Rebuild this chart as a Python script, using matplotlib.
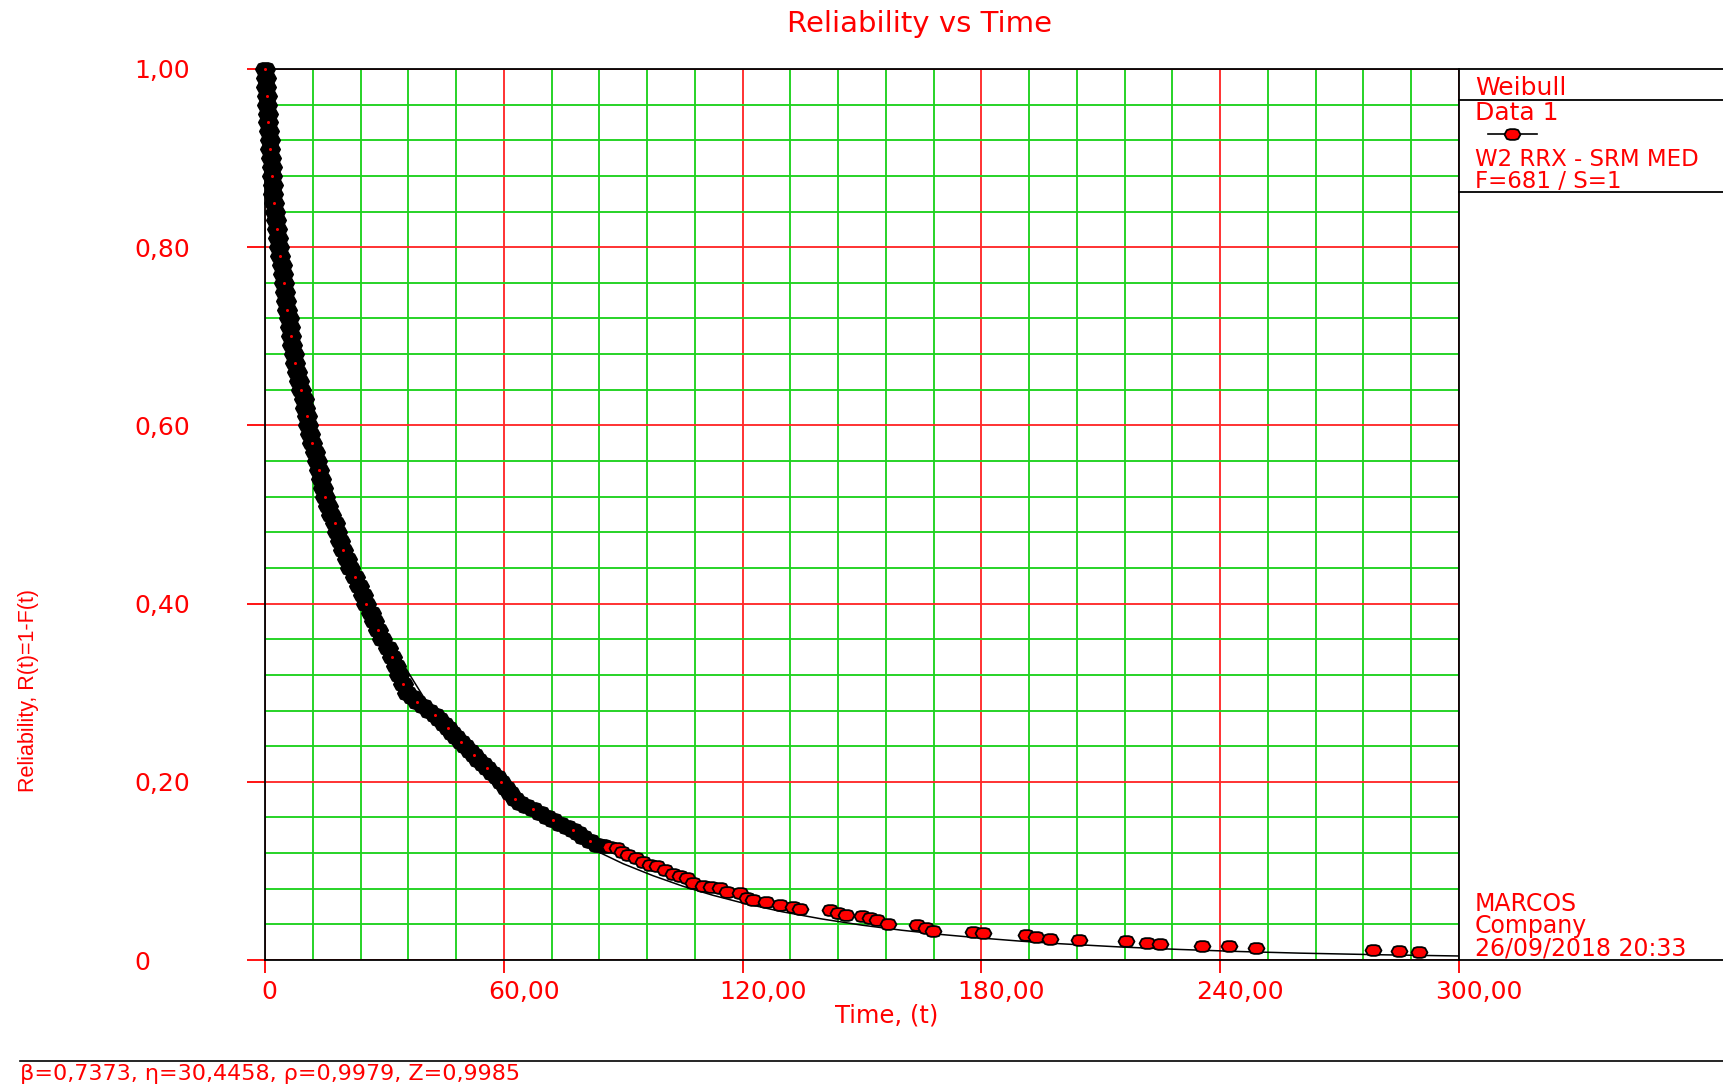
import numpy as np
import matplotlib
matplotlib.use("Agg")
import matplotlib.pyplot as plt
from matplotlib.path import Path
from matplotlib.lines import Line2D
from matplotlib.ticker import FixedLocator, MultipleLocator
import matplotlib.transforms as mtransforms

# ---------------- data ----------------
time_obs = [
    0.0, 0.15, 0.3, 0.45, 0.55, 0.65, 0.8, 1.0, 1.2, 1.35, 1.5, 1.65, 1.8, 1.95,
    2.1, 2.35, 2.6, 2.8, 3.0, 3.2, 3.45, 3.8, 4.15, 4.45, 4.7, 4.95, 5.25, 5.6,
    5.95, 6.25, 6.55, 6.9, 7.25, 7.65, 8.1, 8.6, 9.1, 9.7, 10.1, 10.5, 10.9,
    11.4, 11.9, 12.5, 13.0, 13.6, 14.1, 14.65, 15.2, 15.85, 16.7, 17.6, 18.2,
    18.9, 19.7, 20.5, 21.4, 22.5, 23.6, 24.5, 25.4, 26.7, 27.5, 28.3, 29.5,
    30.8, 31.8, 32.8, 33.7, 34.7, 35.8,
    37.0, 38.3, 39.7, 41.2, 42.6, 43.8, 44.9, 46.0, 47.0, 48.0, 49.2, 50.3,
    51.4, 52.4, 53.5, 54.7, 55.9, 57.0, 58.2, 59.4,
    60.5, 61.6, 62.8, 64.1, 65.7, 67.4, 69.1, 70.8, 72.4, 74.1, 75.8, 77.4,
    78.7, 79.9, 81.6, 83.3, 85.0, 86.7, 88.4, 89.8, 91.3, 93.1, 95.0, 96.7,
    98.4, 100.4, 102.5, 104.2, 106.0,
    107.5, 110.0, 112.0, 114.3, 116.0, 119.3, 121.0, 122.6, 126.0, 129.4,
    132.7, 134.4, 142.0, 144.0, 146.0, 150.0, 152.0, 153.7, 156.6, 163.7,
    166.0, 167.8, 178.0, 180.4, 191.3, 193.8, 197.2, 204.5, 216.3, 221.6,
    224.9, 235.4, 242.2, 248.9, 278.4, 284.9, 289.9,
]
rel_obs = [
    1.00, 0.99, 0.98, 0.97, 0.96, 0.95, 0.94, 0.93, 0.92, 0.91, 0.90, 0.89,
    0.88, 0.87, 0.86, 0.85, 0.84, 0.83, 0.82, 0.81, 0.80, 0.79, 0.78, 0.77,
    0.76, 0.75, 0.74, 0.73, 0.72, 0.71, 0.70, 0.69, 0.68, 0.67, 0.66, 0.65,
    0.64, 0.63, 0.62, 0.61, 0.60, 0.59, 0.58, 0.57, 0.56, 0.55, 0.54, 0.53,
    0.52, 0.51, 0.50, 0.49, 0.48, 0.47, 0.46, 0.45, 0.44, 0.43, 0.42, 0.41,
    0.40, 0.39, 0.38, 0.37, 0.36, 0.35, 0.34, 0.33, 0.32, 0.31, 0.30,
    0.295, 0.290, 0.285, 0.280, 0.275, 0.270, 0.265, 0.260, 0.255, 0.250,
    0.245, 0.240, 0.235, 0.230, 0.225, 0.220, 0.215, 0.210, 0.205, 0.200,
    0.193, 0.187, 0.181, 0.176, 0.173, 0.170, 0.165, 0.161, 0.157, 0.153,
    0.149, 0.146, 0.142, 0.138, 0.133, 0.129, 0.128, 0.127, 0.126, 0.121,
    0.118, 0.114, 0.110, 0.107, 0.105, 0.101, 0.097, 0.094, 0.092,
    0.086, 0.083, 0.082, 0.081, 0.0767, 0.075, 0.070, 0.067, 0.065, 0.062,
    0.060, 0.057, 0.056, 0.053, 0.0505, 0.049, 0.047, 0.045, 0.040, 0.039,
    0.036, 0.033, 0.031, 0.030, 0.0277, 0.0255, 0.0236, 0.0224, 0.021,
    0.0194, 0.0176, 0.0153, 0.0157, 0.0135, 0.0112, 0.0104, 0.0093,
]
# fitted Weibull line
fit_time = [0, 0.5, 1, 2, 3, 5, 7.5, 10, 15, 20, 25, 30, 35, 40, 45, 50, 55,
            60, 67.5, 75, 82.5, 90, 97.5, 105, 112.5, 120, 130, 140, 150,
            160, 170, 180, 190, 200, 215, 230, 245, 260, 280, 300]
fit_rel = [1.0, 0.953, 0.923, 0.874, 0.834, 0.768, 0.700, 0.644, 0.552,
           0.480, 0.421, 0.372, 0.330, 0.294, 0.263, 0.2365, 0.213, 0.192,
           0.1655, 0.143, 0.124, 0.108, 0.0946, 0.0828, 0.0727, 0.064,
           0.0541, 0.046, 0.0391, 0.0334, 0.0286, 0.0246, 0.0211, 0.0182,
           0.0146, 0.0118, 0.0095, 0.0077, 0.0059, 0.0045]

x_ticks = [0, 60, 120, 180, 240, 300]
x_tick_labels = ["0", "60,00", "120,00", "180,00", "240,00", "300,00"]
y_ticks = [0, 0.2, 0.4, 0.6, 0.8, 1.0]
y_tick_labels = ["0", "0,20", "0,40", "0,60", "0,80", "1,00"]

legend_lines = ["Weibull", "Data 1", "W2 RRX - SRM MED", "F=681 / S=1"]
footer_lines = ["MARCOS", "Company", "26/09/2018 20:33"]
param_text = "β=0,7373, η=30,4458, ρ=0,9979, Z=0,9985"
dense_limit = 86.0   # overlapping markers render as a solid black band

# ---------------- styling ----------------
RED = "#ff0000"
GRID_RED = "#ff2a2a"
GREEN = "#1ed21e"
W, H = 1724, 1088
L, R, T, B = 265, 1459, 69, 960
plt.rcParams["font.family"] = ["DejaVu Sans"]

fig = plt.figure(figsize=(W / 100, H / 100), dpi=100)
ax = fig.add_axes([L / W, 1 - B / H, (R - L) / W, (B - T) / H])
ax.set_xlim(0, 300)
ax.set_ylim(0, 1)

ax.xaxis.set_major_locator(FixedLocator(x_ticks))
ax.xaxis.set_minor_locator(MultipleLocator(12))
ax.yaxis.set_major_locator(FixedLocator(y_ticks))
ax.yaxis.set_minor_locator(MultipleLocator(0.04))
ax.grid(which="minor", color=GREEN, lw=1.35)
ax.grid(which="major", color=GRID_RED, lw=1.35)
ax.set_axisbelow(True)
ax.tick_params(which="minor", length=0)
ax.tick_params(axis="y", which="major", direction="out", length=13, width=1.3,
               colors=RED, labelsize=18, pad=81)
ax.tick_params(axis="x", which="major", direction="out", length=9.4, width=1.3,
               colors=RED, labelsize=18, pad=5)
ax.set_xticklabels(x_tick_labels)
ax.set_yticklabels(y_tick_labels, ha="left")
for lbl in ax.get_yticklabels():
    lbl.set_color(RED)
for i, lbl in enumerate(ax.get_xticklabels()):
    dx = 0.04 if i == 0 else 0.20
    lbl.set_transform(lbl.get_transform() +
                      mtransforms.ScaledTranslation(dx, 0, fig.dpi_scale_trans))
for ticks in (ax.xaxis.get_major_ticks(), ax.yaxis.get_major_ticks()):
    ticks[0].tick1line.set_color("black")
    ticks[-1].tick1line.set_color("black")

for sp in ax.spines.values():
    sp.set_color("black")
    sp.set_linewidth(1.3)

# marker shape: flattened octagon
mv = [(-1, 0), (-0.7, 0.55), (-0.3, 0.67), (0.3, 0.67), (0.7, 0.55), (1, 0),
      (0.7, -0.55), (0.3, -0.67), (-0.3, -0.67), (-0.7, -0.55), (-1, 0)]
mark = Path(mv, closed=True)

t = np.array(time_obs)
r = np.array(rel_obs)
dense = t <= dense_limit
ax.plot(fit_time, fit_rel, color="black", lw=1.1, zorder=3)
# densely overlapping observations: the black outlines merge into a band
ax.plot(t[dense], r[dense], ls="none", marker=mark, ms=14, mfc="black",
        mec="black", mew=1.2, zorder=4, clip_on=False)
# the few red centres that remain visible inside the band
ax.plot(t[dense][::3], r[dense][::3], ls="none", marker="o", ms=2.2,
        mfc=RED, mec=RED, mew=0, zorder=5, clip_on=False)
ax.plot(t[~dense], r[~dense], ls="none", marker=mark, ms=11.5, mfc=RED,
        mec="black", mew=1.3, zorder=4, clip_on=False)

# labels
fig.text(920 / W, 1 - 24 / H, "Reliability vs Time", color=RED, fontsize=21,
         ha="center", va="center")
ax.set_xlabel("Time, (t)", color=RED, fontsize=17.5)
ax.xaxis.set_label_coords((887 - L) / (R - L), -(1004 - B) / (B - T))
ax.set_ylabel("Reliability, R(t)=1-F(t)", color=RED, fontsize=15.5,
              family=["Liberation Sans", "DejaVu Sans"], va="center")
ax.yaxis.set_label_coords((28 - L) / (R - L), (B - 691) / (B - T))

# frame extensions and side panel
def hline(y, x0, x1=W, lw=1.3):
    fig.add_artist(Line2D([x0 / W, x1 / W], [1 - y / H] * 2, color="black", lw=lw))

hline(T, R)
hline(B, R)
hline(100, R)
hline(192, R)
hline(1061, 20, lw=1.2)

fig.text(1475 / W, 1 - 88 / H, legend_lines[0], color=RED, fontsize=18, va="center")
fig.text(1475 / W, 1 - 113 / H, legend_lines[1], color=RED, fontsize=18, va="center")
fig.add_artist(Line2D([1488 / W, 1512.5 / W, 1537 / W], [1 - 134 / H] * 3,
                      color="black", lw=1.2, marker=mark, ms=11.5, mfc=RED,
                      mec="black", mew=1.3, markevery=[1]))
fig.text(1475 / W, 1 - 159 / H, legend_lines[2], color=RED, fontsize=16.5, va="center")
fig.text(1475 / W, 1 - 181 / H, legend_lines[3], color=RED, fontsize=16.5, va="center")

for y, s in zip([904, 926, 948], footer_lines):
    fig.text(1475 / W, 1 - y / H, s, color=RED, fontsize=17, va="center")

fig.text(20 / W, 1 - 1074 / H, param_text, color=RED, fontsize=16, va="center")

fig.savefig("out.png", dpi=100)
